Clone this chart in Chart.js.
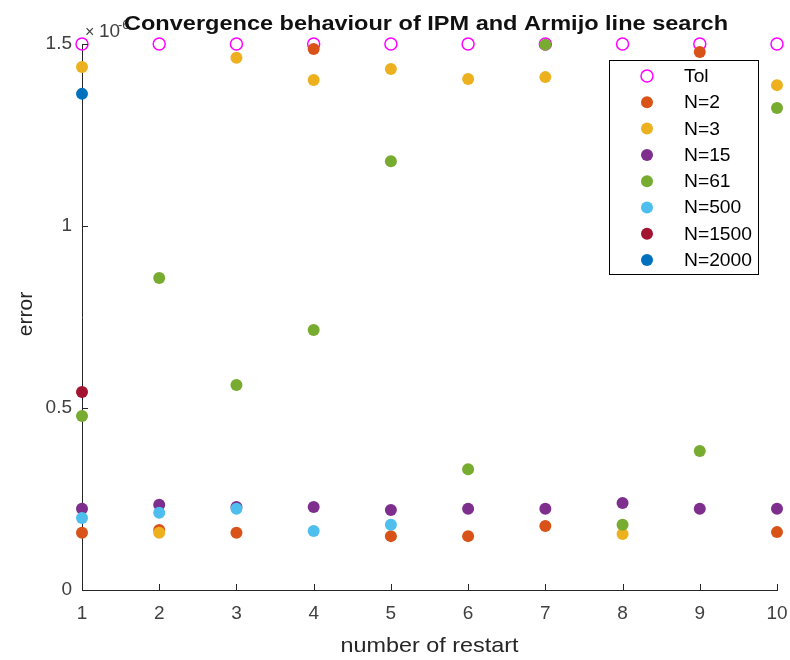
<!DOCTYPE html>
<html lang="en">
  <head>
    <meta charset="UTF-8" />
    <title>Convergence behaviour</title>
    <style>
      html,
      body {
        margin: 0;
        padding: 0;
        background: #fff;
      }
      canvas {
        display: block;
      }
    </style>
  </head>
  <body>
    <canvas id="chart_id" width="790" height="660"></canvas>
    <script src="https://cdn.jsdelivr.net/npm/chart.js@4.4.1/dist/chart.umd.min.js"></script>
    <script>
      // restarts on the x axis
      const restarts = [1, 2, 3, 4, 5, 6, 7, 8, 9, 10];
      const yTicks = [0, 0.5, 1, 1.5];
      // errors in units of 1e-6, null = above the axis limit (not shown)
      const tol = [1.5, 1.5, 1.5, 1.5, 1.5, 1.5, 1.5, 1.5, 1.5, 1.5];
      const n2 = [0.157, 0.165, 0.157, 1.486, 0.148, 0.148, 0.176, null, 1.478, 0.159];
      const n3 = [1.437, 0.157, 1.462, 1.401, 1.431, 1.404, 1.409, 0.154, null, 1.387];
      const n15 = [0.223, 0.234, 0.228, 0.228, 0.22, 0.223, 0.223, 0.239, 0.223, 0.223];
      const n61 = [0.478, 0.857, 0.563, 0.714, 1.178, 0.332, 1.498, 0.179, 0.382, 1.324];
      const n500 = [0.198, 0.212, 0.223, 0.162, 0.179, null, null, null, null, null];
      const n1500 = [0.544, null, null, null, null, null, null, null, null, null];
      const n2000 = [1.363, null, null, null, null, null, null, null, null, null];

      const FONT = "'Liberation Sans', Arial, Helvetica, sans-serif";
      const AXIS = "#262626";

      function pts(vals) {
        let out = [];
        vals.forEach((v, i) => {
          if (v !== null) out.push({ x: restarts[i], y: v });
        });
        return out;
      }

      let series = [
        { label: "Tol", vals: tol, color: "#FF00FF", hollow: true },
        { label: "N=2", vals: n2, color: "#D95319" },
        { label: "N=3", vals: n3, color: "#EDB120" },
        { label: "N=15", vals: n15, color: "#7E2F8E" },
        { label: "N=61", vals: n61, color: "#77AC30" },
        { label: "N=500", vals: n500, color: "#4DBEEE" },
        { label: "N=1500", vals: n1500, color: "#A2142F" },
        { label: "N=2000", vals: n2000, color: "#0072BD" },
      ];

      let datasets = series.map((s, i) => ({
        label: s.label,
        data: pts(s.vals),
        pointRadius: 6,
        pointHoverRadius: 6,
        pointBorderWidth: s.hollow ? 1.5 : 0,
        borderColor: s.color,
        backgroundColor: s.hollow ? "rgba(0,0,0,0)" : s.color,
        clip: false,
        order: series.length - i,
      }));

      // text squeezed/stretched horizontally
      function wideText(ctx, text, x, y, sx, align) {
        let w = ctx.measureText(text).width * sx;
        let left = align === "center" ? x - w / 2 : x;
        ctx.save();
        ctx.textAlign = "left";
        ctx.translate(left, y);
        ctx.scale(sx, 1);
        ctx.fillText(text, 0, 0);
        ctx.restore();
      }

      // inward ticks, titles, exponent label and the boxed legend
      let decorations = {
        id: "decorations",
        afterDraw(chart) {
          let ctx = chart.ctx;
          let xs = chart.scales.x;
          let ys = chart.scales.y;
          let area = chart.chartArea;
          let mid = (area.left + area.right) / 2;
          ctx.save();
          ctx.strokeStyle = AXIS;
          ctx.lineWidth = 1;
          ctx.beginPath();
          restarts.forEach((v) => {
            let px = Math.round(xs.getPixelForValue(v)) + 0.5;
            ctx.moveTo(px, area.bottom);
            ctx.lineTo(px, area.bottom - 6);
          });
          yTicks.forEach((v) => {
            let py = Math.round(ys.getPixelForValue(v)) + 0.5;
            ctx.moveTo(area.left, py);
            ctx.lineTo(area.left + 6, py);
          });
          ctx.stroke();

          // exponent
          ctx.fillStyle = "#404040";
          ctx.textBaseline = "alphabetic";
          ctx.textAlign = "left";
          ctx.font = "16px " + FONT;
          ctx.fillText("\u00d7", 85, 37);
          ctx.font = "19px " + FONT;
          ctx.fillText("10", 99, 37);
          ctx.font = "13px " + FONT;
          ctx.fillText("-6", 118, 29);

          // title
          ctx.fillStyle = "#111";
          ctx.font = "bold 20px " + FONT;
          let title = "Convergence behaviour of IPM and Armijo line search";
          wideText(ctx, title, 124, 30, 604 / ctx.measureText(title).width, "left");

          // axis titles
          ctx.fillStyle = AXIS;
          ctx.font = "21px " + FONT;
          let xt = "number of restart";
          wideText(ctx, xt, mid, 652, 178 / ctx.measureText(xt).width, "center");
          ctx.save();
          ctx.translate(32, (area.top + area.bottom) / 2 - 3);
          ctx.rotate(-Math.PI / 2);
          ctx.textAlign = "center";
          ctx.fillText("error", 0, 0);
          ctx.restore();

          // legend
          let lx = 609.5, ly = 60.5, lw = 149, lh = 214;
          ctx.fillStyle = "#fff";
          ctx.fillRect(lx, ly, lw, lh);
          ctx.strokeStyle = "#000";
          ctx.strokeRect(lx, ly, lw, lh);
          ctx.font = "18px " + FONT;
          ctx.textBaseline = "middle";
          let lsx = 68 / ctx.measureText("N=2000").width;
          chart.data.datasets.forEach((ds, i) => {
            let cy = 76 + i * 26.3;
            ctx.beginPath();
            ctx.arc(647, cy, 6, 0, Math.PI * 2);
            if (ds.pointBorderWidth > 0) {
              ctx.lineWidth = ds.pointBorderWidth;
              ctx.strokeStyle = ds.borderColor;
              ctx.stroke();
            } else {
              ctx.fillStyle = ds.backgroundColor;
              ctx.fill();
            }
            ctx.fillStyle = "#000";
            wideText(ctx, ds.label, 684, cy + 1, lsx, "left");
          });
          ctx.restore();
        },
      };

      let ctx = document.getElementById("chart_id").getContext("2d");

      let chart = new Chart(ctx, {
        type: "scatter",
        data: { datasets: datasets },
        options: {
          responsive: false,
          animation: false,
          layout: { padding: { left: 0, right: 13, top: 44, bottom: 0 } },
          plugins: {
            legend: { display: false },
            tooltip: { enabled: false },
          },
          scales: {
            x: {
              type: "linear",
              min: 1,
              max: 10,
              afterFit(scale) {
                scale.height = 70;
                scale.paddingLeft = 0;
                scale.paddingRight = 0;
              },
              grid: { drawOnChartArea: false, drawTicks: false },
              border: { display: true, color: AXIS, width: 1 },
              ticks: {
                stepSize: 1,
                padding: 12,
                color: "#404040",
                font: { family: FONT, size: 19 },
              },
            },
            y: {
              type: "linear",
              min: 0,
              max: 1.5,
              afterFit(scale) {
                scale.width = 82;
                scale.paddingTop = 0;
                scale.paddingBottom = 0;
              },
              grid: { drawOnChartArea: false, drawTicks: false },
              border: { display: true, color: AXIS, width: 1 },
              ticks: {
                stepSize: 0.5,
                padding: 10,
                color: "#404040",
                font: { family: FONT, size: 19 },
                callback: (v) => String(v),
              },
            },
          },
        },
        plugins: [decorations],
      });
    </script>
  </body>
</html>
